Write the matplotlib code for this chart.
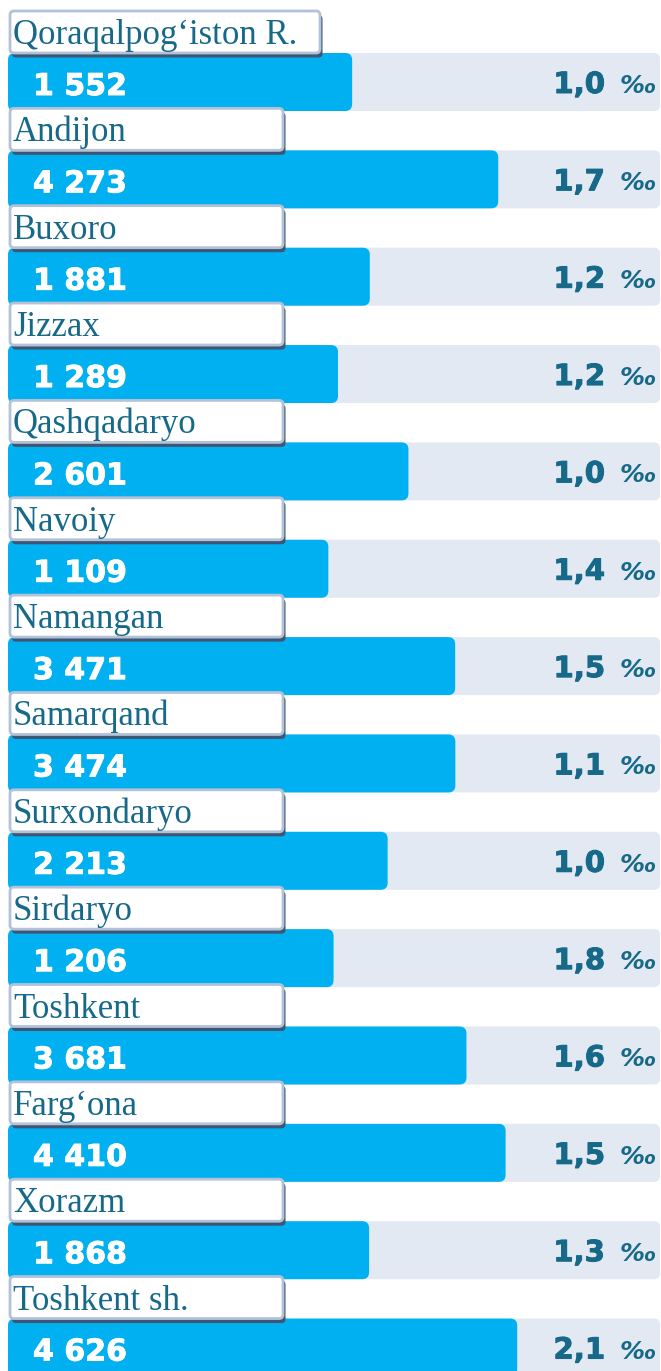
import matplotlib.pyplot as plt
import matplotlib.patheffects as pe
from matplotlib.patches import FancyBboxPatch

regions = ["Qoraqalpog‘iston R.", "Andijon", "Buxoro", "Jizzax", "Qashqadaryo",
           "Navoiy", "Namangan", "Samarqand", "Surxondaryo", "Sirdaryo",
           "Toshkent", "Farg‘ona", "Xorazm", "Toshkent sh."]
counts = [1552, 4273, 1881, 1289, 2601, 1109, 3471, 3474, 2213, 1206,
          3681, 4410, 1868, 4626]
rates = ["1,0", "1,7", "1,2", "1,2", "1,0", "1,4", "1,5", "1,1", "1,0", "1,8",
         "1,6", "1,5", "1,3", "2,1"]

W, H = 661, 1371
X0, X1 = -5006, 7304          # value axis limits
s = (X1 - X0) / W             # value units per pixel

def px(p):
    return X0 + p * s

BLUE = "#00b0f0"
TRACK = "#e3e9f2"
TEAL = "#17698a"
EDGE = "#b3c2d7"
SHADOW = "#3d5676"

fig = plt.figure(figsize=(W / 100, H / 100), dpi=100)
ax = fig.add_axes([0, 0, 1, 1])
ax.set_xlim(X0, X1)
ax.set_ylim(H, 0)
ax.axis("off")

def rbox(x, y, w, h, r, **kw):
    p = FancyBboxPatch((x, y), w, h,
                       boxstyle=f"round,pad=0,rounding_size={r * s}",
                       mutation_aspect=1 / s, **kw)
    ax.add_patch(p)
    return p

def thick(color, w):
    return [pe.withStroke(linewidth=w, foreground=color)]

P = 97.35
for i, (name, n, rate) in enumerate(zip(regions, counts, rates)):
    y0 = 53 + i * P
    # grey track and blue bar
    rbox(px(8), y0, px(660) - px(8), 58, 6, fc=TRACK, ec="none", zorder=1)
    rbox(px(8), y0, n - px(8), 58, 7, fc=BLUE, ec="none", zorder=2)

    # label box with a dark drop shadow
    right = 320 if i == 0 else 283
    rbox(px(12), y0 - 38, px(right + 2.5) - px(12), 42.5, 4, fc=SHADOW, ec="none", zorder=3)
    rbox(px(10), y0 - 42, px(right) - px(10), 42, 4, fc="white", ec=EDGE, lw=2, zorder=4)
    ax.text(px(13), y0 - 9, name, family="Liberation Serif", fontsize=25,
            color=TEAL, ha="left", va="baseline", zorder=5)

    ax.text(px(33), y0 + 42, f"{n:,}".replace(",", " "), family="DejaVu Sans",
            fontweight="bold", fontsize=21.6, color="white",
            ha="left", va="baseline", zorder=5, path_effects=thick("white", 0.7))
    ax.text(px(605), y0 + 40, rate, family="DejaVu Sans", fontweight="bold",
            fontsize=21, color=TEAL, ha="right", va="baseline", zorder=5,
            path_effects=thick(TEAL, 0.7))
    ax.text(px(656), y0 + 40, "‰", family="DejaVu Sans", fontweight="bold",
            style="italic", fontsize=18, color=TEAL, ha="right", va="baseline",
            zorder=5)

fig.savefig("out.png", dpi=100)
